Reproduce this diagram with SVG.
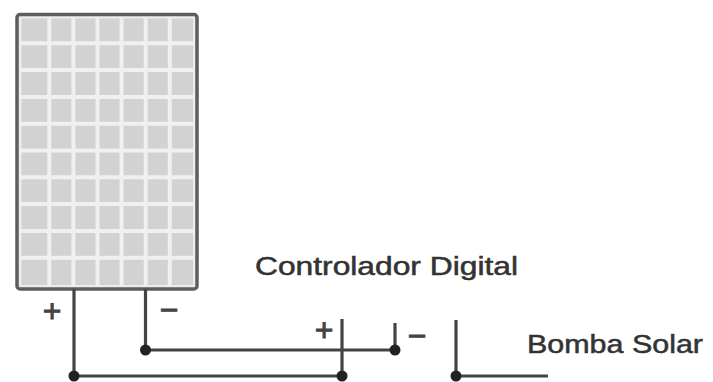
<svg xmlns="http://www.w3.org/2000/svg" width="713" height="382" viewBox="0 0 713 382">
<style>
.wire{stroke:#444;stroke-width:3.2;fill:none;stroke-linecap:butt}
.dot{fill:#222}
.lbl{font-family:"Liberation Sans",Arial,sans-serif;fill:#333;stroke:#333;stroke-width:0.5}
.sign{font-family:"Liberation Sans",Arial,sans-serif;fill:#444;stroke:#444;stroke-width:0.9;font-size:32px;text-anchor:middle}
.grid{stroke:#f0f0f0;stroke-width:4}
</style>
<rect width="713" height="382" fill="#ffffff"/>
<g id="panel">
<rect x="17" y="14.5" width="180" height="274.5" rx="3" fill="#ececec" stroke="#5e5e5e" stroke-width="3.5"/>
<rect x="21.5" y="18.5" width="171.5" height="266.5" fill="#d2d2d2"/>
<g class="grid">
<line x1="49.3" y1="18" x2="49.3" y2="286"/>
<line x1="73.4" y1="18" x2="73.4" y2="286"/>
<line x1="97.5" y1="18" x2="97.5" y2="286"/>
<line x1="121.6" y1="18" x2="121.6" y2="286"/>
<line x1="145.7" y1="18" x2="145.7" y2="286"/>
<line x1="169.8" y1="18" x2="169.8" y2="286"/>
<line x1="20" y1="43.3" x2="194" y2="43.3"/>
<line x1="20" y1="70.1" x2="194" y2="70.1"/>
<line x1="20" y1="96.9" x2="194" y2="96.9"/>
<line x1="20" y1="123.7" x2="194" y2="123.7"/>
<line x1="20" y1="150.5" x2="194" y2="150.5"/>
<line x1="20" y1="177.3" x2="194" y2="177.3"/>
<line x1="20" y1="204.1" x2="194" y2="204.1"/>
<line x1="20" y1="230.9" x2="194" y2="230.9"/>
<line x1="20" y1="257.7" x2="194" y2="257.7"/>
</g>
<text class="sign" x="52" y="322">+</text>
<text class="sign" x="169" y="321">−</text>
</g>
<g id="controlador">
<text class="lbl" x="255" y="275" font-size="25" textLength="263" lengthAdjust="spacingAndGlyphs">Controlador Digital</text>
<text class="sign" x="324" y="341">+</text>
<text class="sign" x="417" y="347">−</text>
</g>
<g id="bomba">
<text class="lbl" x="527" y="353" font-size="25" textLength="176" lengthAdjust="spacingAndGlyphs">Bomba Solar</text>
</g>
<g id="connectors">
<line class="wire" x1="74" y1="289" x2="74" y2="376"/>
<line class="wire" x1="145.5" y1="289" x2="145.5" y2="350"/>
<line class="wire" x1="145.5" y1="350" x2="395" y2="350"/>
<line class="wire" x1="74" y1="376" x2="342" y2="376"/>
<line class="wire" x1="342" y1="319" x2="342" y2="376"/>
<line class="wire" x1="395" y1="323" x2="395" y2="350"/>
<line class="wire" x1="456" y1="320" x2="456" y2="376"/>
<line class="wire" x1="456" y1="376" x2="548" y2="376"/>
<circle class="dot" cx="74" cy="376" r="5.5"/>
<circle class="dot" cx="145.5" cy="350" r="5.5"/>
<circle class="dot" cx="342" cy="376" r="5.5"/>
<circle class="dot" cx="395" cy="350" r="5.5"/>
<circle class="dot" cx="456" cy="376" r="5.5"/>
</g>
</svg>
